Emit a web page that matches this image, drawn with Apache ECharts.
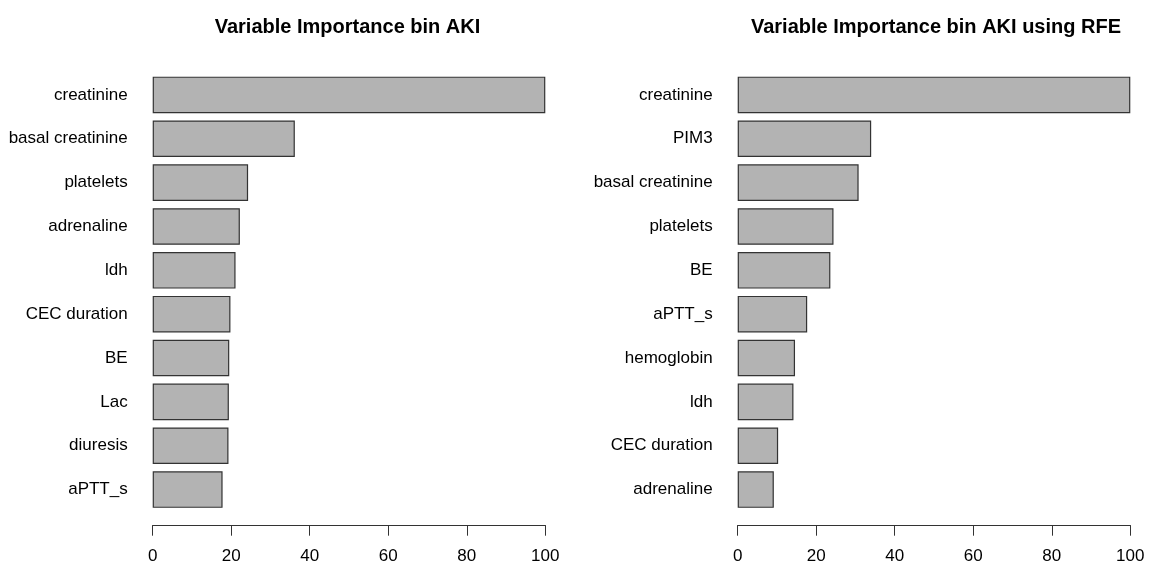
<!DOCTYPE html>
<html>
<head>
<meta charset="utf-8">
<script src="https://cdn.jsdelivr.net/npm/echarts@6/dist/echarts.min.js"></script>
<style>
  html, body { margin: 0; padding: 0; background: #fff; }
  #chart { width: 1154px; height: 570px; }
</style>
</head>
<body>
<div id="chart"></div>
<script>
// Variable importance, all predictors (top 10)
const titleAll = 'Variable Importance bin AKI';
const varsAll = ['creatinine', 'basal creatinine', 'platelets', 'adrenaline', 'ldh',
                 'CEC duration', 'BE', 'Lac', 'diuresis', 'aPTT_s'];
const impAll = [100, 36.2, 24.3, 22.2, 21.1, 19.8, 19.5, 19.4, 19.3, 17.8];

// Variable importance after recursive feature elimination (top 10)
const titleRfe = 'Variable Importance bin AKI using RFE';
const varsRfe = ['creatinine', 'PIM3', 'basal creatinine', 'platelets', 'BE',
                 'aPTT_s', 'hemoglobin', 'ldh', 'CEC duration', 'adrenaline'];
const impRfe = [100, 34.0, 30.8, 24.4, 23.6, 17.7, 14.6, 14.2, 10.3, 9.2];

const xTicks = { min: 0, max: 100, interval: 20 };

const FONT = '"Liberation Sans", Arial, Helvetica, sans-serif';
const plotW = 392.6;
const plotTop = 73;
const plotH = 438.5;
const panelLeft = [152.7, 737.7];

function xAxis(gridIndex) {
  return {
    type: 'value', gridIndex,
    min: xTicks.min, max: xTicks.max, interval: xTicks.interval,
    offset: 13.7,
    axisLine: { show: true, lineStyle: { color: '#333', width: 1 } },
    axisTick: { show: true, length: 10.5, lineStyle: { color: '#333', width: 1 } },
    axisLabel: { color: '#000', fontFamily: FONT, fontSize: 17, margin: 23 },
    splitLine: { show: false }
  };
}

function yAxis(gridIndex, cats) {
  return {
    type: 'category', gridIndex, data: cats, inverse: true,
    axisLine: { show: false }, axisTick: { show: false },
    axisLabel: { color: '#000', fontFamily: FONT, fontSize: 17, margin: 25 }
  };
}

function barSeries(idx, values) {
  return {
    type: 'bar', xAxisIndex: idx, yAxisIndex: idx, data: values,
    barCategoryGap: '16.7%',
    itemStyle: { color: '#b3b3b3', borderColor: '#333', borderWidth: 1.2 },
    silent: true
  };
}

const chart = echarts.init(document.getElementById('chart'), null, { renderer: 'canvas' });
chart.setOption({
  animation: false,
  backgroundColor: '#fff',
  title: [
    { text: titleAll, left: 342.5, top: 12, textAlign: 'center',
      textStyle: { fontFamily: FONT, fontSize: 20, fontWeight: 'bold', color: '#000' } },
    { text: titleRfe, left: 931, top: 12, textAlign: 'center',
      textStyle: { fontFamily: FONT, fontSize: 20, fontWeight: 'bold', color: '#000' } }
  ],
  grid: panelLeft.map(l => ({ left: l, top: plotTop, width: plotW, height: plotH, containLabel: false })),
  xAxis: [xAxis(0), xAxis(1)],
  yAxis: [yAxis(0, varsAll), yAxis(1, varsRfe)],
  series: [barSeries(0, impAll), barSeries(1, impRfe)]
});
</script>
</body>
</html>
